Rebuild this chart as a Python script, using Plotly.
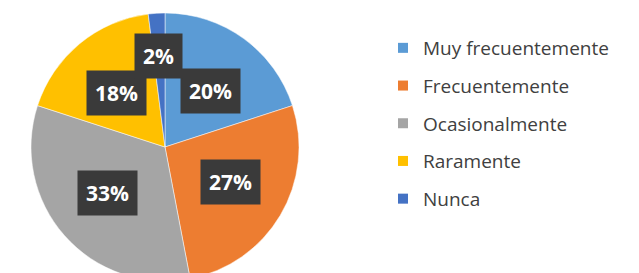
import math
import plotly.graph_objects as go

categories = ["Muy frecuentemente", "Frecuentemente", "Ocasionalmente", "Raramente", "Nunca"]
values = [20, 27, 33, 18, 2]
colors = ["#5B9BD5", "#ED7D31", "#A5A5A5", "#FFC000", "#4472C4"]

W, H = 639, 273
CX, CY = 157, 139        # pie centre in figure px (from top)
R = 134                  # pie radius in px

fig = go.Figure()
fig.add_trace(go.Pie(
    labels=categories, values=values, sort=False, direction="clockwise", rotation=0,
    marker=dict(colors=colors, line=dict(color="white", width=0.5)),
    textinfo="none", hoverinfo="label+percent", showlegend=False,
    domain=dict(x=[(CX - R) / W, (CX + R) / W],
                y=[max(0.0, (H - CY - R) / H), min(1.0, (H - CY + R) / H)]),
))

# legend entries via dummy traces (to allow spacing)
for cat, col in zip(categories, colors):
    fig.add_trace(go.Scatter(
        x=[None], y=[None], mode="markers", name=cat, legendgroup=cat,
        marker=dict(symbol="square", size=10, color=col),
    ))

# label boxes placed at slice mid-angles
total = sum(values)
cum = 0
annotations = []
for v in values:
    mid = (cum + v / 2) / total * 2 * math.pi
    cum += v
    frac = 0.68 if v / total < 0.05 else 0.52
    px = CX + R * frac * math.sin(mid) * 1.1
    py = CY - R * frac * math.cos(mid)
    annotations.append(dict(
        x=px / W, y=1 - py / H, xref="paper", yref="paper",
        xanchor="center", yanchor="middle",
        text=f"<b>{round(v / total * 100)}%</b>", showarrow=False,
        font=dict(family="Open Sans", size=21, color="white"),
        bgcolor="#3A3A3A", borderpad=8,
    ))

fig.update_layout(
    width=W, height=H, margin=dict(l=0, r=0, t=0, b=0),
    paper_bgcolor="white", plot_bgcolor="white",
    xaxis=dict(visible=False), yaxis=dict(visible=False),
    annotations=annotations,
    legend=dict(x=375 / W, y=1 - 21 / H, xanchor="left", yanchor="top",
                font=dict(family="Open Sans", size=19, color="#404040"),
                tracegroupgap=10, itemwidth=30, bgcolor="rgba(0,0,0,0)"),
    showlegend=True,
)

fig.write_html("out.html")
